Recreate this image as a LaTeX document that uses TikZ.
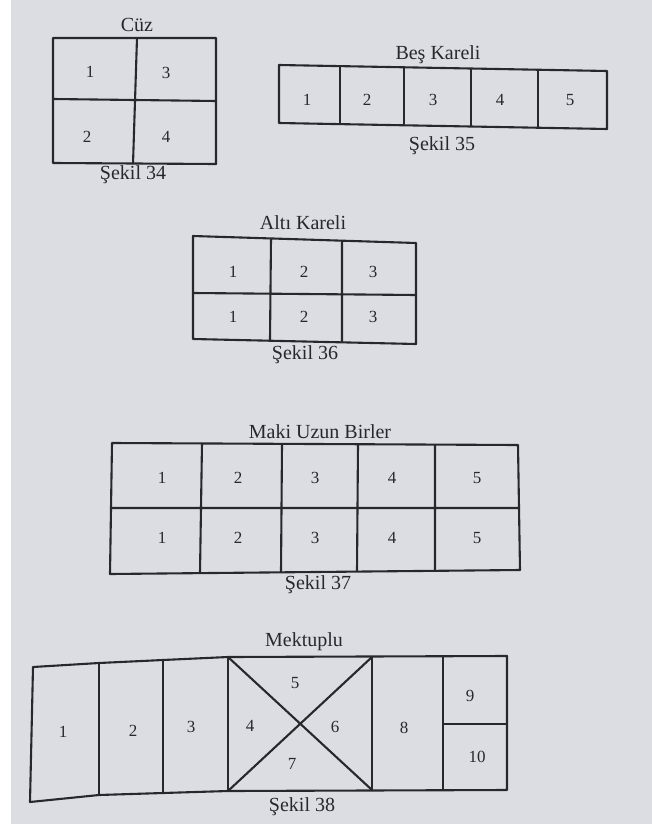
\documentclass[tikz,border=0pt]{standalone}
\usepackage{fontspec}
\setmainfont{Liberation Serif}
\usepackage{tikz}
\usetikzlibrary{positioning}
\definecolor{Paper}{RGB}{220,221,227}
\definecolor{Ink}{RGB}{40,40,44}
\tikzset{
  frame/.style={draw=Ink,line width=2.1pt,line join=round},
  cellnum/.style={text=Ink,font=\fontsize{17}{20}\selectfont,inner sep=0pt},
  figtitle/.style={text=Ink,font=\fontsize{20}{23}\selectfont,inner sep=0pt},
  figcap/.style={figtitle}
}

\begin{document}
\begin{tikzpicture}[x=1pt,y=-1pt]
\fill[Paper] (0,0) rectangle (652,824);
\fill[white] (0,0) rectangle (11,824);
\useasboundingbox (0,0) rectangle (652,824);
% Sekil 34
\draw[frame] (53,38)--(216,38)--(216,164)--(53,163)--cycle;
\draw[frame] (137,38)--(133,164) (53,99)--(216,101);
\node[figtitle] (t34) at (137,25) {Cüz};
\node[figcap] (c34) at (133,175) {Şekil 34};
\node[cellnum] (a1) at (90,72) {1};
\node[cellnum] (a3) at (166,73) {3};
\node[cellnum] (a2) at (87,137) {2};
\node[cellnum] (a4) at (166,137) {4};
% Sekil 35
\draw[frame] (279,65)--(607,71)--(607,129)--(279,123)--cycle;
\draw[frame] (340,67)--(340,125) (404,68)--(404,126) (471,69)--(471,127) (538,70)--(538,128);
\node[figtitle] (t35) at (438,55) {Beş Kareli};
\node[figcap] (c35) at (442,146) {Şekil 35};
\foreach \n/\x in {1/307,2/367,3/433,4/500,5/570}
  \node[cellnum] (b\n) at (\x,100) {\n};
% Sekil 36
\draw[frame] (193,236)--(416,243)--(416,344)--(193,339)--cycle;
\draw[frame] (193,293)--(416,295) (271,239)--(270,340) (342,241)--(342,342);
\node[figtitle] (t36) at (303,223) {Altı Kareli};
\node[figcap] (c36) at (305,355) {Şekil 36};
\foreach \n/\x in {1/233,2/304,3/373}{
  \node[cellnum] (u\n) at (\x,272) {\n};
  \node[cellnum] (l\n) at (\x,317) {\n};
}
% Sekil 37
\draw[frame] (112,443)--(518,445)--(520,570)--(110,574)--cycle;
\draw[frame] (111,508)--(519,508) (202,443)--(200,573) (282,444)--(281,572) (358,444)--(357,571) (435,444)--(435,571);
\node[figtitle] (t37) at (320,432) {Maki Uzun Birler};
\node[figcap] (c37) at (318,585) {Şekil 37};
\foreach \n/\x in {1/162,2/238,3/315,4/392,5/477}{
  \node[cellnum] (p\n) at (\x,478) {\n};
  \node[cellnum] (q\n) at (\x,538) {\n};
}
% Sekil 38
\draw[frame] (33,667)--(99,663)--(163,660)--(228,657)--(507,656)--(507,790)--(228,791)--(163,793)--(99,795)--(30,802)--cycle;
\draw[frame] (99,663)--(99,795) (163,660)--(163,793) (228,657)--(228,791) (372,657)--(372,790) (443,656)--(443,790) (443,724)--(507,724);
\draw[frame] (228,657)--(372,790) (372,657)--(228,791);
\node[figtitle] (t38) at (304,642) {Mektuplu};
\node[figcap] (c38) at (302,807) {Şekil 38};
\node[cellnum] (m1) at (63,732) {1};
\node[cellnum] (m2) at (133,731) {2};
\node[cellnum] (m3) at (191,727) {3};
\node[cellnum] (m4) at (250,726) {4};
\node[cellnum] (m5) at (295,683) {5};
\node[cellnum] (m6) at (335,727) {6};
\node[cellnum] (m7) at (292,764) {7};
\node[cellnum] (m8) at (404,728) {8};
\node[cellnum] (m9) at (470,696) {9};
\node[cellnum] (m10) at (477,757) {10};
\end{tikzpicture}
\end{document}
